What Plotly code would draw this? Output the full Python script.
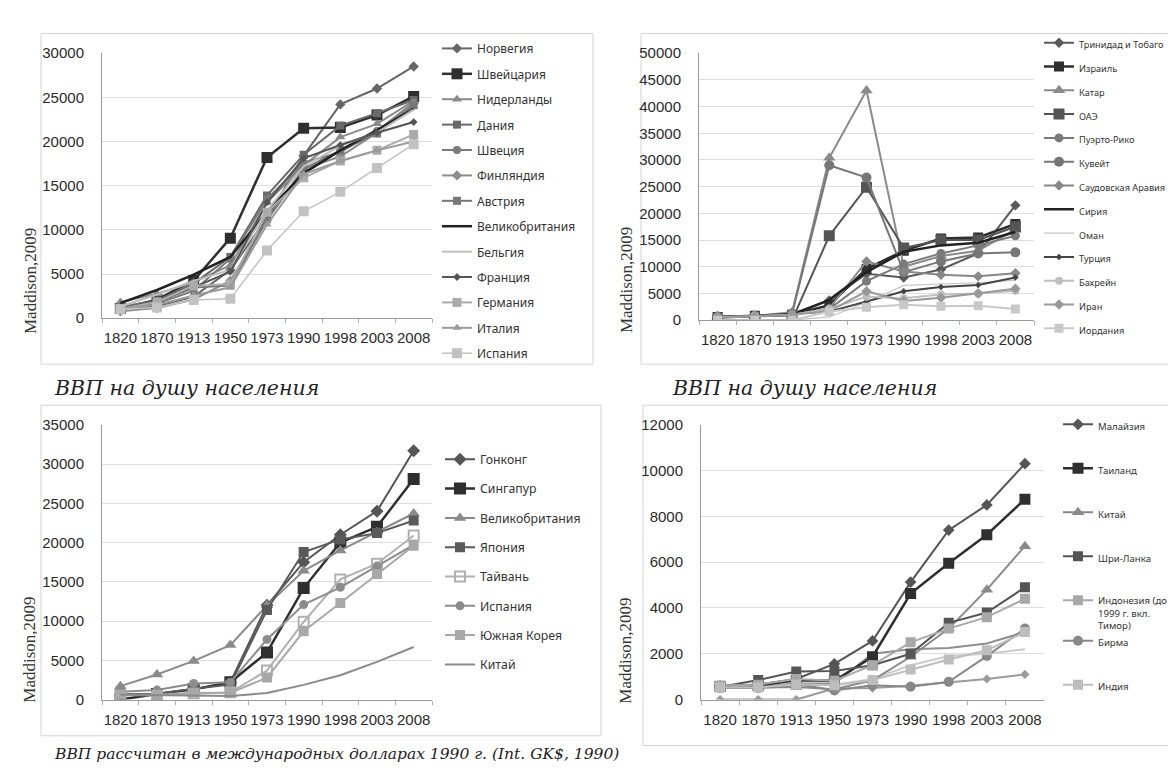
import plotly.graph_objects as go

W, H = 1176, 769

years = ["1820", "1870", "1913", "1950", "1973", "1990", "1998", "2003", "2008"]

# ---------- Panel 1: Western Europe ----------
p1_names = ["Норвегия", "Швейцария", "Нидерланды", "Дания", "Швеция", "Финляндия", "Австрия",
            "Великобритания", "Бельгия", "Франция", "Германия", "Италия", "Испания"]
p1_values = [
    [1100, 1360, 2450, 5460, 11300, 18400, 24200, 26000, 28500],
    [1090, 2100, 4270, 9060, 18200, 21500, 21600, 23000, 25100],
    [1840, 2760, 4050, 6000, 13100, 17300, 20500, 22000, 24600],
    [1270, 2000, 3910, 6940, 13900, 18500, 21800, 23200, 24700],
    [1200, 1660, 3100, 6740, 13500, 17600, 18800, 21200, 24400],
    [780, 1140, 2110, 4250, 11100, 16900, 18300, 21000, 24300],
    [1220, 1860, 3470, 3710, 11200, 16900, 19000, 20900, 24100],
    [1710, 3190, 4920, 6940, 12000, 16400, 19000, 21300, 23700],
    [1320, 2690, 4220, 5460, 12200, 17200, 19500, 21000, 23600],
    [1140, 1880, 3490, 5270, 13100, 18100, 19600, 21000, 22200],
    [1080, 1840, 3650, 3880, 12000, 15900, 17800, 19000, 20800],
    [1120, 1500, 2560, 3500, 10600, 16300, 17800, 19000, 20000],
    [1010, 1210, 2060, 2190, 7660, 12100, 14300, 17000, 19700],
]
p1_styles = [
    ("#666666", "diamond", 8, 2), ("#2f2f2f", "square", 11, 2.5), ("#8a8a8a", "triangle-up", 9, 2),
    ("#6a6a6a", "square", 8, 2), ("#7a7a7a", "circle", 8, 2), ("#8c8c8c", "diamond", 8, 2),
    ("#777777", "square", 8, 2), ("#222222", None, 0, 2.5), ("#bdbdbd", None, 0, 2),
    ("#555555", "diamond", 6, 2), ("#ababab", "square", 9, 2), ("#9a9a9a", "triangle-up", 8, 2),
    ("#c2c2c2", "square", 10, 1.5),
]

# ---------- Panel 2: Middle East ----------
p2_names = ["Тринидад и Тобаго", "Израиль", "Катар", "ОАЭ", "Пуэрто-Рико", "Кувейт",
            "Саудовская Аравия", "Сирия", "Оман", "Турция", "Бахрейн", "Иран", "Иордания"]
p2_values = [
    [600, 800, 1200, 3700, 8700, 8000, 9500, 12500, 21500],
    [600, 800, 1000, 2800, 9600, 13000, 15300, 15500, 18000],
    [700, 800, 1500, 30400, 43000, 10000, 12000, 13000, 17000],
    [0, 0, 0, 15800, 24900, 13500, 15000, 15000, 17500],
    [600, 800, 1000, 2100, 7300, 10500, 12500, 14000, 15800],
    [700, 800, 1200, 29000, 26700, 9000, 11000, 12500, 12700],
    [600, 800, 1000, 2200, 11000, 9100, 8500, 8200, 8800],
    [500, 800, 1000, 3800, 9000, 12800, 14000, 14500, 16500],
    [0, 0, 0, 600, 3300, 6500, 6800, 7000, 7500],
    [640, 830, 1200, 1600, 3500, 5400, 6200, 6600, 8000],
    [500, 800, 1000, 2100, 4400, 4100, 4800, 5000, 5500],
    [590, 720, 1000, 1700, 5400, 3600, 4200, 5000, 5900],
    [0, 0, 0, 1600, 2400, 2900, 2600, 2700, 2100],
]
p2_styles = [
    ("#5a5a5a", "diamond", 8, 2), ("#2f2f2f", "square", 10, 2.5), ("#8a8a8a", "triangle-up", 11, 2),
    ("#555555", "square", 11, 2), ("#7a7a7a", "circle", 9, 2), ("#777777", "circle", 10, 2),
    ("#888888", "diamond", 8, 2), ("#222222", None, 0, 2.5), ("#c4c4c4", None, 0, 1.2),
    ("#444444", "diamond", 5, 2), ("#bfbfbf", "circle", 8, 2), ("#999999", "diamond", 8, 2),
    ("#c8c8c8", "square", 9, 2),
]

# ---------- Panel 3: East Asia (rich) ----------
p3_names = ["Гонконг", "Сингапур", "Великобритания", "Япония", "Тайвань", "Испания",
            "Южная Корея", "Китай"]
p3_values = [
    [600, 700, 1300, 2200, 12000, 17500, 21000, 24000, 31700],
    [0, 700, 1300, 2200, 6000, 14200, 20000, 22000, 28100],
    [1710, 3190, 4920, 6940, 12000, 16400, 19000, 21300, 23700],
    [670, 740, 1390, 1920, 11400, 18800, 20400, 21200, 22800],
    [550, 550, 750, 920, 3700, 9900, 15300, 17300, 20900],
    [1010, 1210, 2060, 2190, 7660, 12100, 14300, 17000, 19700],
    [600, 600, 870, 850, 2800, 8700, 12300, 16000, 19600],
    [600, 530, 550, 450, 840, 1870, 3100, 4800, 6700],
]
p3_styles = [
    ("#555555", "diamond", 10, 2), ("#2f2f2f", "square", 12, 2.5), ("#8a8a8a", "triangle-up", 11, 2),
    ("#5a5a5a", "square", 10, 2), ("#b0b0b0", "square-open", 10, 2), ("#8c8c8c", "circle", 9, 2),
    ("#a8a8a8", "square", 10, 2), ("#8a8a8a", None, 0, 2),
]

# ---------- Panel 4: Asia (other) ----------
p4_names = ["Малайзия", "Таиланд", "Китай", "Шри-Ланка", "Индонезия (до<br>1999 г. вкл.<br>Тимор)",
            "Бирма", "Индия"]
p4_values = [
    [600, 660, 900, 1560, 2560, 5130, 7400, 8500, 10300],
    [570, 610, 840, 820, 1870, 4630, 5950, 7200, 8750],
    [600, 530, 550, 450, 840, 1870, 3100, 4800, 6700],
    [550, 850, 1230, 1250, 1500, 2000, 3350, 3800, 4900],
    [610, 650, 900, 820, 1500, 2500, 3100, 3600, 4400],
    [500, 500, 690, 400, 630, 560, 780, 1900, 3100],
    [530, 530, 670, 620, 850, 1310, 1750, 2150, 2950],
]
p4_styles = [
    ("#555555", "diamond", 9, 2), ("#2f2f2f", "square", 11, 2.5), ("#8a8a8a", "triangle-up", 11, 2),
    ("#555555", "square", 10, 2), ("#a8a8a8", "square", 10, 2), ("#888888", "circle", 10, 2),
    ("#bdbdbd", "square", 10, 2),
]
p4_legend_groups = ["g1", "g2", "g3", "g4", "g5", "g5", "g6"]
# unnamed series in the chart (not shown in its legend)
p4_extra_values = [
    [0, 0, 0, 480, 500, 600, 750, 900, 1100],
    [550, 560, 700, 700, 2000, 2200, 2250, 2450, 2950],
    [500, 500, 600, 650, 900, 1500, 1900, 2000, 2200],
]
p4_extra_styles = [("#9a9a9a", "diamond", 7, 2), ("#8f8f8f", None, 0, 2), ("#cccccc", None, 0, 2)]


def px(x):
    return x / W


def py(y):
    return 1 - y / H


fig = go.Figure()


def add_series(names, values, styles, axis_n, legend_id, groups=None, show=True):
    xa = "x" if axis_n == 1 else f"x{axis_n}"
    ya = "y" if axis_n == 1 else f"y{axis_n}"
    for i, (name, vals, st) in enumerate(zip(names, values, styles)):
        color, symbol, size, width = st
        mode = "lines+markers" if symbol else "lines"
        marker = dict(symbol=symbol, size=size, color=color, line=dict(width=0)) if symbol else None
        if symbol == "square-open":
            marker = dict(symbol=symbol, size=size, color=color, line=dict(width=2, color=color))
        fig.add_trace(go.Scatter(
            x=years, y=vals, name=name, mode=mode,
            line=dict(color=color, width=width), marker=marker,
            xaxis=xa, yaxis=ya, legend=legend_id, showlegend=show,
            legendgroup=(groups[i] if groups else f"{legend_id}_{i}"),
        ))


add_series(p1_names, p1_values, p1_styles, 1, "legend")
add_series(p2_names, p2_values, p2_styles, 2, "legend2")
add_series(p3_names, p3_values, p3_styles, 3, "legend3")
add_series([" ", "  ", "   "], p4_extra_values, p4_extra_styles, 4, "legend4",
           groups=["x1", "x2", "x3"], show=False)
add_series(p4_names, p4_values, p4_styles, 4, "legend4", groups=p4_legend_groups)

tick_font = dict(family="Liberation Sans, Arial, sans-serif", size=15, color="#2a2a2a")


def xax(x0, x1, anchor):
    return dict(domain=[px(x0), px(x1)], anchor=anchor, type="category",
                categoryorder="array", categoryarray=years, range=[-0.5, 8.5],
                showgrid=False, showline=True, linecolor="#9a9a9a", linewidth=1,
                ticks="outside", tickson="boundaries", ticklen=4, tickcolor="#b0b0b0",
                tickfont=tick_font, tickangle=0, ticklabelstandoff=6,
                zeroline=False, fixedrange=True)


def yax(y0, y1, rng, dtick, anchor):
    return dict(domain=[py(y0), py(y1)], anchor=anchor, range=rng, dtick=dtick,
                tickformat="d",
                showgrid=True, gridcolor="#dedede", gridwidth=1, showline=True,
                linecolor="#9a9a9a", linewidth=1, ticks="", tickfont=tick_font,
                ticklabelstandoff=14, zeroline=False, fixedrange=True)


leg_common = dict(xanchor="left", yanchor="top", bgcolor="rgba(0,0,0,0)",
                  traceorder="grouped", itemwidth=30, valign="top")

fig.update_layout(
    width=W, height=H, autosize=False,
    margin=dict(l=0, r=0, t=0, b=0),
    paper_bgcolor="white", plot_bgcolor="white",
    xaxis=xax(94, 424, "y"),
    yaxis=yax(308, 37, [0, 30000], 5000, "x"),
    xaxis2=xax(691, 1026, "y2"),
    yaxis2=yax(310, 37, [0, 50000], 5000, "x2"),
    xaxis3=xax(94, 424, "y3"),
    yaxis3=yax(698, 417, [0, 35000], 5000, "x3"),
    xaxis4=xax(693, 1036, "y4"),
    yaxis4=yax(698, 417, [0, 12000], 2000, "x4"),
    legend=dict(x=px(429), y=py(17.5), tracegroupgap=6.4,
                font=dict(family="Noto Sans, sans-serif", size=12, color="#333"), **leg_common),
    legend2=dict(x=px(1031), y=py(13.5), tracegroupgap=4.8,
                 font=dict(family="Noto Sans, sans-serif", size=9.2, color="#333"), **leg_common),
    legend3=dict(x=px(432), y=py(437.5), tracegroupgap=10.3,
                 font=dict(family="Noto Sans, sans-serif", size=12.3, color="#333"), **leg_common),
    legend4=dict(x=px(1050), y=py(403.5), tracegroupgap=25,
                 font=dict(family="Noto Sans, sans-serif", size=9.6, color="#333"), **leg_common),
    showlegend=True,
)

# panel frames
for (x0, y0, x1, y1) in [(33, 17, 585, 355), (633, 17, 1180, 355),
                         (33, 397, 593, 735), (635, 397, 1180, 745)]:
    fig.add_shape(type="rect", xref="paper", yref="paper",
                  x0=px(x0), x1=px(x1), y0=py(y1), y1=py(y0),
                  line=dict(color="#d4d4d4", width=1), fillcolor="rgba(0,0,0,0)", layer="below")

serif_it = dict(family="DejaVu Serif, serif", size=20.5, color="#222")
for (x, y) in [(44, 379), (662, 379)]:
    fig.add_annotation(text="<i>ВВП на душу населения</i>", xref="paper", yref="paper",
                       x=px(x), y=py(y), xanchor="left", yanchor="middle",
                       showarrow=False, font=serif_it)

fig.add_annotation(text="<i>ВВП рассчитан в международных долларах 1990 г. (Int. GK$, 1990)</i>",
                   xref="paper", yref="paper", x=px(44), y=py(754), xanchor="left",
                   yanchor="middle", showarrow=False,
                   font=dict(family="DejaVu Serif, serif", size=15.5, color="#222"))

for (x, y) in [(22, 270), (618, 269), (22, 647), (618, 648)]:
    fig.add_annotation(text="Maddison,2009", xref="paper", yref="paper", x=px(x), y=py(y),
                       xanchor="center", yanchor="middle", textangle=-90, showarrow=False,
                       font=dict(family="Liberation Serif, serif", size=17, color="#333"))

fig.write_html("out.html")
